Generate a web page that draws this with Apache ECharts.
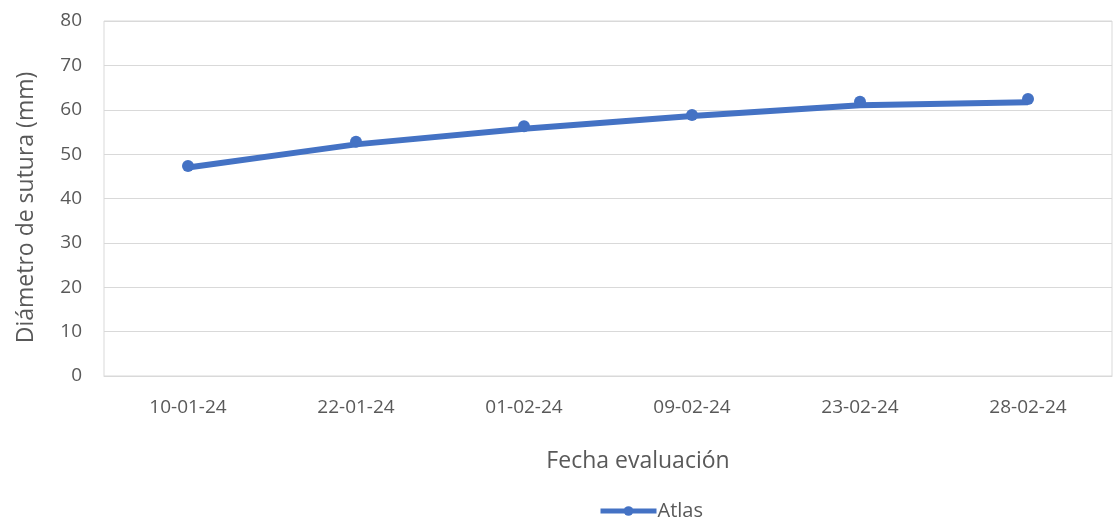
<!DOCTYPE html>
<html>
<head>
<meta charset="utf-8">
<script src="https://cdn.jsdelivr.net/npm/echarts@6/dist/echarts.min.js"></script>
<style>
  html, body { margin: 0; padding: 0; background: #fff; }
  #chart { width: 1117px; height: 521px; }
</style>
</head>
<body>
<div id="chart"></div>
<script>
  // datos
  const fechas = ['10-01-24', '22-01-24', '01-02-24', '09-02-24', '23-02-24', '28-02-24']
  const atlas = [47.3, 52.8, 56.3, 58.8, 61.8, 62.4]
  const tendencia = [47.0, 52.2, 55.7, 58.6, 61.0, 61.7]
  const yTicks = [0, 10, 20, 30, 40, 50, 60, 70, 80]

  const azul = '#4472C4'
  const gris = '#595959'
  const fuente = '"Open Sans", "Noto Sans", sans-serif'

  const myChart = echarts.init(document.getElementById('chart'))
  let option = {
    backgroundColor: '#fff',
    textStyle: { fontFamily: fuente },
    grid: {
      left: 104, right: 5, top: 21, bottom: 145,
      show: true,
      borderColor: '#d9d9d9',
      borderWidth: 1
    },
    legend: {
      top: 496,
      left: 593,
      itemWidth: 56,
      itemHeight: 12,
      itemGap: 4,
      data: ['Atlas'],
      lineStyle: { width: 5, opacity: 1, color: azul },
      textStyle: { color: gris, fontSize: 20, fontFamily: fuente, padding: [0, 0, 0, -4] }
    },
    xAxis: {
      type: 'category',
      data: fechas,
      name: 'Fecha evaluación',
      nameLocation: 'middle',
      nameGap: 74,
      nameTextStyle: { color: gris, fontSize: 23, fontFamily: fuente, padding: [0, 0, 0, 60] },
      axisLine: { lineStyle: { color: '#d9d9d9' } },
      axisTick: { show: false },
      axisLabel: { color: gris, fontSize: 19, margin: 22, fontFamily: fuente }
    },
    yAxis: {
      type: 'value',
      min: yTicks[0],
      max: yTicks[yTicks.length - 1],
      interval: 10,
      name: 'Diámetro de sutura (mm)',
      nameLocation: 'middle',
      nameGap: 66,
      nameTextStyle: { color: gris, fontSize: 23, fontFamily: fuente, padding: [0, 18, 0, 0] },
      axisLine: { show: false },
      axisTick: { show: false },
      splitLine: { lineStyle: { color: '#d9d9d9' } },
      axisLabel: { color: gris, fontSize: 19, margin: 22, fontFamily: fuente }
    },
    series: [
      {
        name: 'tendencia',
        type: 'line',
        data: tendencia,
        symbol: 'none',
        lineStyle: { width: 6, color: azul },
        itemStyle: { color: azul },
        silent: true,
        z: 2
      },
      {
        name: 'Atlas',
        type: 'line',
        data: atlas,
        symbol: 'circle',
        symbolSize: 12,
        showAllSymbol: true,
        lineStyle: { width: 4, opacity: 0, color: azul },
        itemStyle: { color: azul },
        z: 3
      }
    ]
  }
  option && myChart.setOption(option)
</script>
</body>
</html>
